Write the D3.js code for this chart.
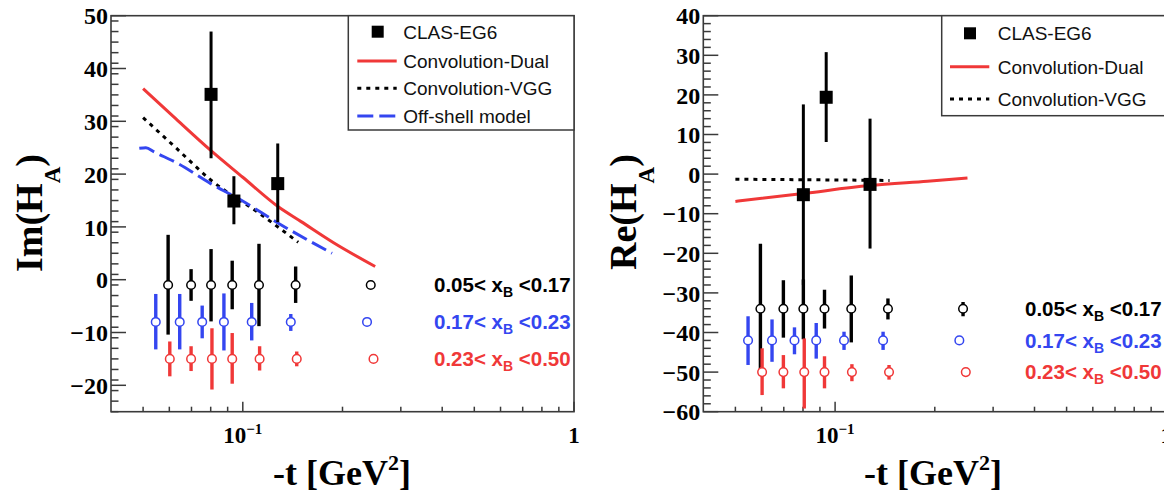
<!DOCTYPE html>
<html>
<head>
<meta charset="utf-8">
<script src="https://cdn.jsdelivr.net/npm/d3@7"></script>
<style>
  html, body { margin: 0; padding: 0; background: #fff; }
  svg { display: block; }
</style>
</head>
<body>
<svg id="chart" width="1164" height="496"></svg>
<script>
// ---------------- DATA ----------------
// -t positions (GeV^2)
const clasT  = [0.0802, 0.0940, 0.1275];
const blackT = [0.0595, 0.0698, 0.0802, 0.0929, 0.1119, 0.1444, 0.2434];
const blueT  = [0.0546, 0.0645, 0.0754, 0.0877, 0.1064, 0.1396, 0.2372];
const redT   = [0.0602, 0.0698, 0.0807, 0.0929, 0.1124, 0.1455, 0.2481];

// Im(H_A) panel
const imClasV  = [35.1, 14.9, 18.2];
const imClasLo = [23.0, 10.5, 10.9];
const imClasHi = [47.0, 19.6, 25.8];
const imRowV   = [-1, -8, -15];          // black, blue, red rows
const imBlackLo = [-10.4, -4.0, -7.9, -5.6, -8.8, -4.4, -1];
const imBlackHi = [8.5, 2.0, 5.8, 3.6, 6.8, 2.5, -1];
const imBlueLo  = [-13.2, -13.2, -11.1, -13.4, -11.5, -9.7, -8];
const imBlueHi  = [-2.7, -2.7, -4.9, -2.6, -4.4, -6.5, -8];
const imRedLo   = [-18.3, -17.3, -20.8, -19.7, -17.2, -16.4, -15];
const imRedHi   = [-11.7, -12.6, -9.2, -10.1, -12.6, -13.6, -15];
const imDualT = [0.050, 0.062, 0.080, 0.100, 0.128, 0.150, 0.188, 0.251];
const imDualV = [36.2, 30.8, 24.5, 19.4, 13.8, 11.0, 7.0, 2.5];
const imVggT  = [0.050, 0.063, 0.080, 0.112, 0.147];
const imVggV  = [30.7, 24.9, 18.9, 12.6, 7.1];
const imOffT  = [0.0487, 0.051, 0.054, 0.0637, 0.080, 0.0987, 0.128, 0.186];
const imOffV  = [24.9, 25.0, 24.2, 22.0, 18.2, 15.1, 10.7, 5.0];

// Re(H_A) panel
const reClasV  = [-5.2, 19.4, -2.6];
const reClasLo = [-28.0, 8.1, -18.8];
const reClasHi = [17.6, 30.8, 14.0];
const reRowV   = [-34, -42, -50];
const reBlackLo = [-50.6, -41.3, -41.7, -39.0, -42.5, -36.7, -35.9];
const reBlackHi = [-17.6, -26.8, -26.6, -29.2, -25.6, -31.4, -32.3];
const reBlueLo  = [-48.2, -47.4, -45.5, -46.6, -44.4, -44.4, -42];
const reBlueHi  = [-35.9, -36.7, -38.7, -37.6, -39.8, -39.8, -42];
const reRedLo   = [-55.8, -54.1, -59.2, -54.1, -52.3, -51.9, -50];
const reRedHi   = [-44.0, -45.7, -41.5, -46.0, -48.0, -48.2, -50];
const reDualT = [0.050, 0.080, 0.127, 0.190, 0.251];
const reDualV = [-6.9, -4.9, -2.9, -1.8, -1.0];
const reVggT  = [0.050, 0.090, 0.146];
const reVggV  = [-1.3, -1.45, -1.6];

// ticks and labels
const xMajorTicks = [0.1, 1];
const xMinorTicks = [0.05, 0.06, 0.07, 0.08, 0.09, 0.2, 0.3, 0.4, 0.5, 0.6, 0.7, 0.8, 0.9];
const imTicks = [-20, -10, 0, 10, 20, 30, 40, 50];
const reTicks = [-60, -50, -40, -30, -20, -10, 0, 10, 20, 30, 40];
const binLow  = ["0.05", "0.17", "0.23"];
const binHigh = ["0.17", "0.23", "0.50"];
const legendImLabels = ["CLAS-EG6", "Convolution-Dual", "Convolution-VGG", "Off-shell model"];
const legendReLabels = ["CLAS-EG6", "Convolution-Dual", "Convolution-VGG"];

// ---------------- STYLE ----------------
const RED = "#f03838", BLUE = "#3446f0", BLACK = "#000";
const FRAME = "#3a3a3a";
const SERIF = "'Liberation Serif', 'Times New Roman', serif";
const SANS = "'Liberation Sans', Arial, Helvetica, sans-serif";

const svg = d3.select("#chart");

function drawPanel(o) {
  const x = d3.scaleLog().domain([0.04, 1]).range([o.left, o.right]);
  const y = d3.scaleLinear().domain(o.yDomain).range([o.bottom, o.top]);
  const g = svg.append("g");

  // frame
  g.append("rect").attr("x", o.left).attr("y", o.top)
    .attr("width", o.right - o.left).attr("height", o.bottom - o.top)
    .attr("fill", "none").attr("stroke", FRAME).attr("stroke-width", 1.6);

  // y ticks (inside), major + minor
  const minorY = d3.range(o.yDomain[0], o.yDomain[1] + 0.01, 2).filter(v => Math.abs(v % 10) > 0.01);
  g.selectAll(".ymaj").data(o.yTicks).enter().append("line")
    .attr("x1", o.left).attr("x2", o.left + 15)
    .attr("y1", d => y(d)).attr("y2", d => y(d))
    .attr("stroke", FRAME).attr("stroke-width", 1.5);
  g.selectAll(".ymin").data(minorY).enter().append("line")
    .attr("x1", o.left).attr("x2", o.left + 7.5)
    .attr("y1", d => y(d)).attr("y2", d => y(d))
    .attr("stroke", FRAME).attr("stroke-width", 1.5);
  g.selectAll(".ylab").data(o.yTicks).enter().append("text")
    .attr("x", o.left - 3).attr("y", d => y(d)).attr("dy", "0.36em")
    .attr("text-anchor", "end")
    .attr("font-family", SERIF).attr("font-weight", "bold").attr("font-size", 24)
    .text(d => d < 0 ? "\u2212" + Math.abs(d) : d);

  // x ticks (inside)
  g.selectAll(".xmaj").data(xMajorTicks).enter().append("line")
    .attr("x1", d => x(d)).attr("x2", d => x(d))
    .attr("y1", o.bottom).attr("y2", o.bottom - 10)
    .attr("stroke", FRAME).attr("stroke-width", 1.5);
  g.selectAll(".xmin").data(xMinorTicks).enter().append("line")
    .attr("x1", d => x(d)).attr("x2", d => x(d))
    .attr("y1", o.bottom).attr("y2", o.bottom - 5)
    .attr("stroke", FRAME).attr("stroke-width", 1.5);
  // x tick labels
  const t1 = g.append("text").attr("x", x(0.1)).attr("y", o.bottom + 31.5)
    .attr("text-anchor", "middle")
    .attr("font-family", SERIF).attr("font-weight", "bold").attr("font-size", 23);
  t1.append("tspan").text("10");
  t1.append("tspan").attr("font-size", 15).attr("dy", -9).text("\u22121");
  g.append("text").attr("x", x(1)).attr("y", o.bottom + 31.5)
    .attr("text-anchor", "middle")
    .attr("font-family", SERIF).attr("font-weight", "bold").attr("font-size", 23)
    .text("1");

  // x title
  const xt = g.append("text").attr("x", o.xTitleX).attr("y", 485)
    .attr("text-anchor", "middle")
    .attr("font-family", SERIF).attr("font-weight", "bold").attr("font-size", 36);
  xt.append("tspan").text("-t [GeV");
  xt.append("tspan").attr("font-size", 22).attr("dy", -15).text("2");
  xt.append("tspan").attr("dy", 15).text("]");

  // y title
  const yt = g.append("text")
    .attr("transform", `translate(${o.yTitleX},${o.yTitleY}) rotate(-90)`)
    .attr("text-anchor", "start")
    .attr("font-family", SERIF).attr("font-weight", "bold").attr("font-size", 38);
  yt.append("tspan").text(o.yTitle);
  yt.append("tspan").attr("font-size", 23).attr("dy", 18).text("A");
  yt.append("tspan").attr("dy", -18).text(")");

  // curves
  const line = d3.line().x(d => x(d[0])).y(d => y(d[1])).curve(d3.curveMonotoneX);
  o.curves.forEach(c => {
    g.append("path").datum(d3.zip(c.t, c.v)).attr("d", line)
      .attr("fill", "none").attr("stroke", c.color).attr("stroke-width", 3)
      .attr("stroke-dasharray", c.dash || null);
  });

  // circle rows (black, blue, red)
  o.rows.forEach(r => {
    const data = r.t.map((t, i) => ({t, v: r.v, lo: r.lo[i], hi: r.hi[i]}));
    g.selectAll(null).data(data.filter(d => d.hi - d.lo > 0.01)).enter().append("line")
      .attr("x1", d => x(d.t)).attr("x2", d => x(d.t))
      .attr("y1", d => y(d.lo)).attr("y2", d => y(d.hi))
      .attr("stroke", r.color).attr("stroke-width", 3.4);
    g.selectAll(null).data(data).enter().append("circle")
      .attr("cx", d => x(d.t)).attr("cy", d => y(d.v)).attr("r", 4.3)
      .attr("fill", "#fff").attr("stroke", r.color).attr("stroke-width", 1.5);
  });

  // CLAS points
  const clas = clasT.map((t, i) => ({t, v: o.clasV[i], lo: o.clasLo[i], hi: o.clasHi[i]}));
  g.selectAll(null).data(clas).enter().append("line")
    .attr("x1", d => x(d.t)).attr("x2", d => x(d.t))
    .attr("y1", d => y(d.lo)).attr("y2", d => y(d.hi))
    .attr("stroke", BLACK).attr("stroke-width", 3);
  g.selectAll(null).data(clas).enter().append("rect")
    .attr("x", d => x(d.t) - 6.5).attr("y", d => y(d.v) - 6.5)
    .attr("width", 13).attr("height", 13).attr("fill", BLACK);

  // bin labels
  const rowColors = [BLACK, BLUE, RED];
  rowColors.forEach((col, i) => {
    const tx = g.append("text").attr("x", o.binX).attr("y", y(o.rowV[i])).attr("dy", "0.36em")
      .attr("font-family", SANS).attr("font-weight", "bold").attr("font-size", 20.5)
      .attr("fill", col);
    tx.append("tspan").text(binLow[i] + "< x");
    tx.append("tspan").attr("font-size", 14).attr("dy", 5).text("B");
    tx.append("tspan").attr("dy", -5).text(" <" + binHigh[i]);
  });

  // legend
  const L = o.legend;
  g.append("rect").attr("x", L.x0).attr("y", o.top).attr("width", L.x1 - L.x0).attr("height", L.y1 - o.top)
    .attr("fill", "#fff").attr("stroke", FRAME).attr("stroke-width", 1.5);
  L.labels.forEach((lab, i) => {
    const yy = L.rows[i];
    if (i === 0) {
      g.append("rect").attr("x", L.sym - 6).attr("y", yy - 6).attr("width", 12).attr("height", 12).attr("fill", BLACK);
    } else {
      const c = o.curves[i - 1];
      g.append("line").attr("x1", L.lx0).attr("x2", L.lx1).attr("y1", yy).attr("y2", yy)
        .attr("stroke", c.color).attr("stroke-width", 3).attr("stroke-dasharray", c.dash || null);
    }
    g.append("text").attr("x", L.tx).attr("y", yy).attr("dy", "0.36em")
      .attr("font-family", SANS).attr("font-size", 19).attr("fill", "#111").text(lab);
  });
}

drawPanel({
  left: 111, right: 574, top: 15.7, bottom: 411.7,
  yDomain: [-25, 50], yTicks: imTicks,
  yTitle: "Im(H", yTitleX: 42, yTitleY: 272, xTitleX: 342,
  clasV: imClasV, clasLo: imClasLo, clasHi: imClasHi,
  rowV: imRowV, binX: 434,
  curves: [
    {t: imDualT, v: imDualV, color: RED},
    {t: imVggT, v: imVggV, color: BLACK, dash: "4,5"},
    {t: imOffT, v: imOffV, color: BLUE, dash: "16,6"}
  ],
  rows: [
    {t: blackT, v: imRowV[0], lo: imBlackLo, hi: imBlackHi, color: BLACK},
    {t: blueT, v: imRowV[1], lo: imBlueLo, hi: imBlueHi, color: BLUE},
    {t: redT, v: imRowV[2], lo: imRedLo, hi: imRedHi, color: RED}
  ],
  legend: {x0: 348.3, x1: 574, y1: 130, rows: [31.7, 61, 88.3, 116],
           sym: 377.7, lx0: 357.3, lx1: 396.7, tx: 403.3, labels: legendImLabels}
});

drawPanel({
  left: 703.3, right: 1166.3, top: 15.7, bottom: 411.7,
  yDomain: [-60, 40], yTicks: reTicks,
  yTitle: "Re(H", yTitleX: 636, yTitleY: 270, xTitleX: 933,
  clasV: reClasV, clasLo: reClasLo, clasHi: reClasHi,
  rowV: reRowV, binX: 1025,
  curves: [
    {t: reDualT, v: reDualV, color: RED},
    {t: reVggT, v: reVggV, color: BLACK, dash: "4,5"}
  ],
  rows: [
    {t: blackT, v: reRowV[0], lo: reBlackLo, hi: reBlackHi, color: BLACK},
    {t: blueT, v: reRowV[1], lo: reBlueLo, hi: reBlueHi, color: BLUE},
    {t: redT, v: reRowV[2], lo: reRedLo, hi: reRedHi, color: RED}
  ],
  legend: {x0: 941.7, x1: 1166.3, y1: 115.7, rows: [33.3, 66.7, 99],
           sym: 970, lx0: 950, lx1: 989.3, tx: 997.7, labels: legendReLabels}
});
</script>
</body>
</html>
